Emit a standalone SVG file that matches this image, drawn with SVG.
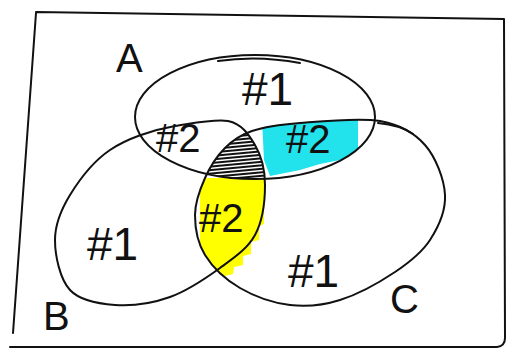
<svg xmlns="http://www.w3.org/2000/svg" width="509" height="353" viewBox="0 0 509 353">
<style>
.ln{fill:none;stroke:#111;stroke-width:2;stroke-linecap:round;stroke-linejoin:round}
.t{font-family:"Liberation Sans",Arial,sans-serif;fill:#111}
.one{font-size:46px}
.two{font-size:40px}
.lbl{font-size:40px}
</style>
<defs>
<ellipse id="shA" cx="255" cy="117" rx="120" ry="62"/>
<path id="shB" d="M228,121 C242.2,124 248.8,134.5 255,145 C261.2,155.5 265,170 265,185 C265,200 262.5,221.2 255,235 C247.5,248.8 234.2,257.7 220,268 C205.8,278.3 187.5,290.8 170,297 C152.5,303.2 131.7,306.2 115,305 C98.3,303.8 80,300.8 70,290 C60,279.2 55,255.8 55,240 C55,224.2 60.8,210 70,195 C79.2,180 93.3,161.3 110,150 C126.7,138.7 152,130 175,126 C195,123 213.8,119 228,121 Z"/>
<path id="shC" d="M300,123 C321.3,121.3 359.2,117.3 380,121 C400.8,124.7 414.2,132.7 425,145 C435.8,157.3 444.2,179.2 445,195 C445.8,210.8 438.3,227.2 430,240 C421.7,252.8 410,262 395,272 C380,282 357.5,294.5 340,300 C322.5,305.5 306.7,307 290,305 C273.3,303 254.2,296.3 240,288 C225.8,279.7 212.5,267.2 205,255 C197.5,242.8 195,227.8 195,215 C195,202.2 200,189.2 205,178 C210,166.8 217.2,155.8 225,148 C232.8,140.2 239.5,135.2 252,131 C264.5,126.8 278.7,124.7 300,123 Z"/>
<clipPath id="cA"><use href="#shA"/></clipPath>
<clipPath id="cB"><use href="#shB"/></clipPath>
<clipPath id="cC"><use href="#shC"/></clipPath>
</defs>
<rect width="509" height="353" fill="#fff"/>
<g id="frame"><path class="ln" d="M36,12 L504,19 L505,338 Q505,346 497,347 L10,347 M13,333 L36,13"/></g>
<g id="fills">
<g clip-path="url(#cC)"><g clip-path="url(#cA)"><polygon points="262,120 358,118 358,153 350,158 320,164 300,170 270,176 264,160" fill="#22e2ec"/></g></g>
<g clip-path="url(#cC)"><polygon points="200,178 264,178 264,224 259,226 259,240 251,242 251,254 243,256 243,265 234,267 233,274 225,276 200,276" fill="#ffff00"/></g>
<g clip-path="url(#cA)"><g clip-path="url(#cB)"><g clip-path="url(#cC)"><path class="ln" stroke-width="2.8" d="M205,181 L270,175 M205,177.5 L270,171.5 M205,174 L270,168 M205,170.5 L270,164.5 M205,167 L270,161 M205,163.5 L270,157.5 M205,160 L270,154 M205,156.5 L270,150.5 M205,153 L270,147 M205,149.5 L270,143.5 M205,146 L270,140 M205,142.5 L270,136.5 M205,139 L270,133 M205,135.5 L270,129.5"/></g></g></g>
</g>
<g id="setA"><use href="#shA" class="ln"/><path class="ln" d="M218,61 Q258,55 300,63"/><text class="t lbl" x="116" y="72">A</text></g>
<g id="setB"><use href="#shB" class="ln"/><text class="t lbl" x="43" y="330">B</text></g>
<g id="setC"><use href="#shC" class="ln"/><path class="ln" d="M378,123 Q400,125 413,134"/><text class="t lbl" x="390" y="313">C</text></g>
<g id="regions">
<text class="t one" x="242" y="105">#1</text>
<text class="t one" x="87" y="260">#1</text>
<text class="t one" x="288" y="287">#1</text>
<text class="t two" x="156" y="152">#2</text>
<text class="t two" x="286" y="153">#2</text>
<text class="t two" x="199" y="232">#2</text>
</g>
</svg>
